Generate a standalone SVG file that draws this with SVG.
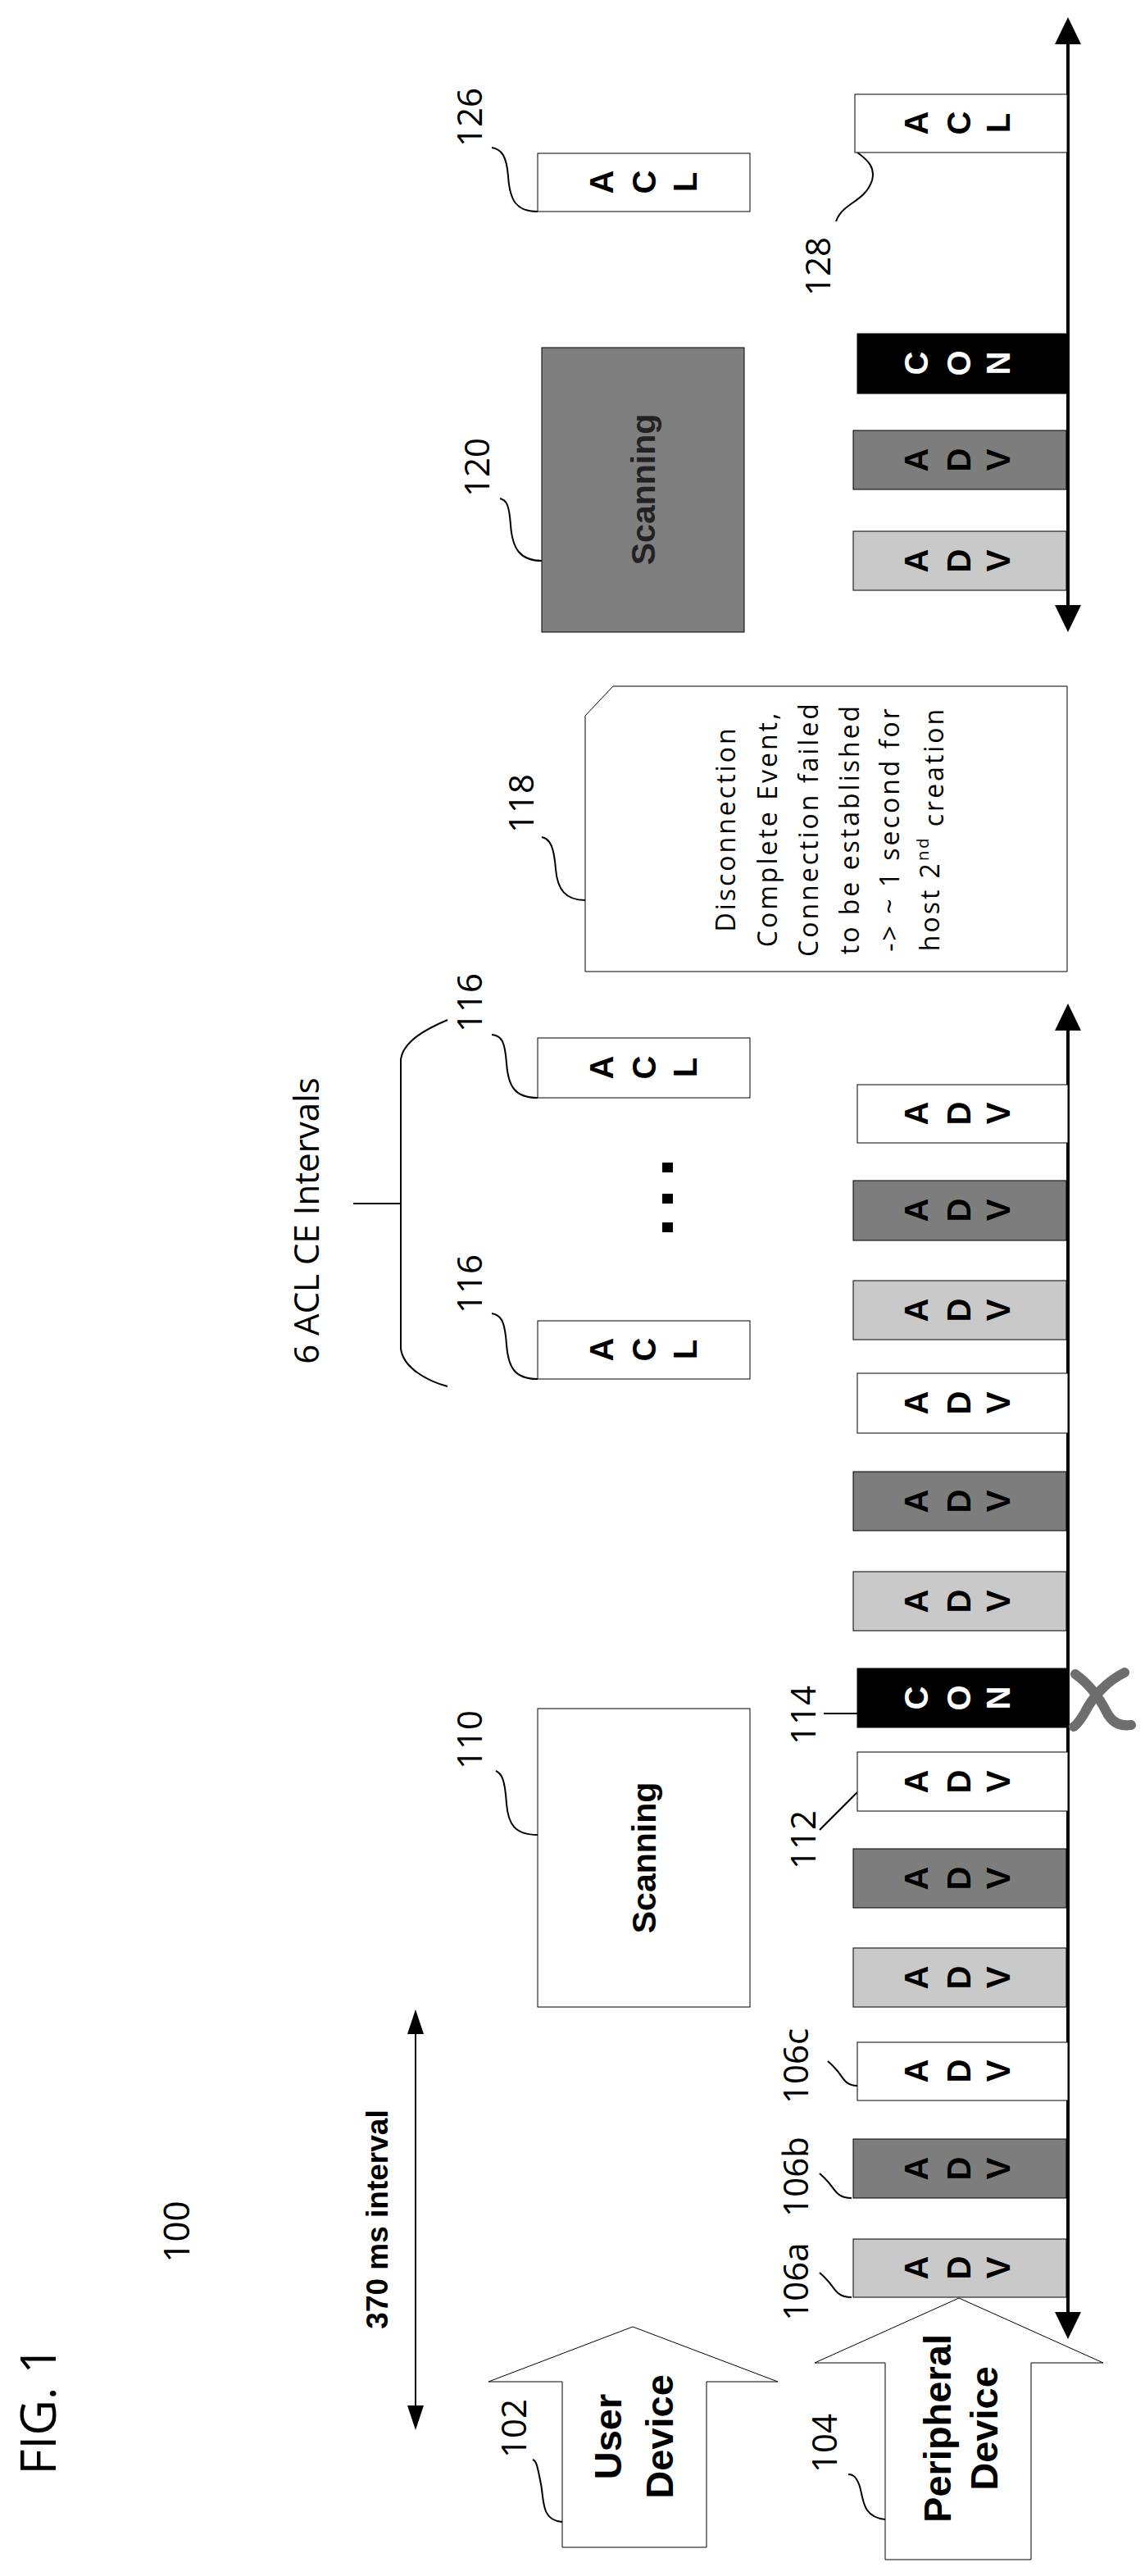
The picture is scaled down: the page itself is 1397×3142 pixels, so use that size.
<svg xmlns="http://www.w3.org/2000/svg" width="1397" height="3142" viewBox="0 0 1397 3142">
<style>
.box{stroke:#000;stroke-width:1}
.w{fill:#fff}.lt{fill:#c9c9c9}.dk{fill:#7d7d7d}.bk{fill:#000}
.let{font-family:"Liberation Sans",Arial,sans-serif;font-weight:bold;font-size:40px;text-anchor:middle;dominant-baseline:central}
.wl{fill:#fff}
.lbl{font-family:"Open Sans","DejaVu Sans",sans-serif;font-size:42px;text-anchor:middle;dominant-baseline:central}
.bold{font-family:"Liberation Sans",Arial,sans-serif;font-weight:bold;text-anchor:middle;dominant-baseline:central}
.ld{fill:none;stroke:#000;stroke-width:2}
.ax{stroke:#000;stroke-width:4;fill:none}
</style>

<g id="connectors">
<line class="ax" x1="1303" y1="1256" x2="1303" y2="2822"/>
<polygon points="1303,1224 1287,1257 1319,1257"/>
<polygon points="1303,2853 1287,2820 1319,2820"/>
<line class="ax" x1="1303" y1="52" x2="1303" y2="740"/>
<polygon points="1303,21 1287,54 1319,54"/>
<polygon points="1303,771 1287,738 1319,738"/>
<line x1="507" y1="2475" x2="507" y2="2940" stroke="#000" stroke-width="2"/>
<polygon points="507,2451 497,2481 517,2481"/>
<polygon points="507,2964 497,2934 517,2934"/>
<path class="ld" d="M686,3076 C660,3074 664,3050 660,3030 C656,3010 655,3002 650,3000"/>
<path class="ld" d="M1080,3073 C1050,3070 1054,3045 1048,3030 C1044,3020 1040,3018 1035,3018"/>
<path class="ld" d="M1039,2802 C1020,2802 1018,2790 1010,2782 C1005,2776 1002,2774 1000,2772"/>
<path class="ld" d="M1039,2681 C1020,2681 1018,2669 1010,2661 C1005,2655 1002,2653 1000,2651"/>
<path class="ld" d="M1046,2544 C1030,2544 1028,2532 1020,2524 C1015,2518 1012,2516 1010,2514"/>
<path class="ld" d="M1046,2186 L1000,2232"/>
<path class="ld" d="M1005,2090 L1046,2090"/>
<path class="ld" d="M656,2238 C628,2238 620,2225 618,2200 C616,2170 612,2163 605,2160"/>
<path class="ld" d="M656,1682 C628,1682 620,1668 618,1640 C616,1612 612,1604 600,1602"/>
<path class="ld" d="M656,1339 C628,1339 620,1325 618,1297 C616,1270 612,1263 600,1262"/>
<path class="ld" d="M714,1098 C690,1098 680,1085 678,1060 C676,1035 672,1023 661,1021"/>
<path class="ld" d="M661,684 C635,684 625,670 623,640 C621,615 618,610 610,608"/>
<path class="ld" d="M656,258 C630,258 622,245 620,215 C618,190 612,182 600,180"/>
<path class="ld" d="M1046,186 C1060,196 1068,205 1064,220 C1058,238 1044,244 1034,252 C1026,258 1022,264 1020,270"/>
<path class="ld" d="M546,1244 C520,1255 492,1270 489,1292 L489,1645 C492,1668 520,1684 546,1691"/>
<line class="ld" x1="431" y1="1468" x2="489" y2="1468"/>
<path d="M1312,2042 C1330,2055 1342,2072 1350,2088 C1356,2100 1366,2106 1380,2104" fill="none" stroke="#6e6e6e" stroke-width="12" stroke-linecap="round"/>
<path d="M1372,2040 C1352,2050 1334,2068 1324,2088 C1318,2098 1314,2104 1310,2106" fill="none" stroke="#6e6e6e" stroke-width="12" stroke-linecap="round"/>
</g>

<g id="fig-title">
<text class="lbl" style="font-size:60px" transform="translate(45,2940) rotate(-90)">FIG. 1</text>
<text class="lbl" style="font-size:44px" transform="translate(214,2722) rotate(-90)">100</text>
<text class="bold" style="font-size:37px" transform="translate(460,2707) rotate(-90)">370 ms interval</text>
</g>

<g id="user-device">
<polygon class="box w" points="772,2838 949,2905 862,2905 862,3107 686,3107 686,2905 596,2905"/>
<text class="bold" style="font-size:47px" transform="translate(741,2972) rotate(-90)">User</text>
<text class="bold" style="font-size:47px" transform="translate(804,2972) rotate(-90)">Device</text>
<text class="lbl" transform="translate(625,2962) rotate(-90)">102</text>
</g>

<g id="peripheral-device">
<polygon class="box w" points="1170,2803 1346,2882 1258,2882 1258,3122 1080,3122 1080,2882 994,2882"/>
<text class="bold" style="font-size:47px" transform="translate(1143,2962) rotate(-90)">Peripheral</text>
<text class="bold" style="font-size:47px" transform="translate(1200,2962) rotate(-90)">Device</text>
<text class="lbl" transform="translate(1004,2980) rotate(-90)">104</text>
</g>

<g id="labels">
<text class="lbl" transform="translate(969,2783) rotate(-90)">106a</text>
<text class="lbl" transform="translate(969,2655) rotate(-90)">106b</text>
<text class="lbl" transform="translate(969,2520) rotate(-90)">106c</text>
<text class="lbl" transform="translate(978,2244) rotate(-90)">112</text>
<text class="lbl" transform="translate(978,2092) rotate(-90)">114</text>
<text class="lbl" transform="translate(571,2122) rotate(-90)">110</text>
<text class="lbl" transform="translate(571,1566) rotate(-90)">116</text>
<text class="lbl" transform="translate(571,1223) rotate(-90)">116</text>
<text class="lbl" transform="translate(634,980) rotate(-90)">118</text>
<text class="lbl" transform="translate(580,570) rotate(-90)">120</text>
<text class="lbl" transform="translate(571,143) rotate(-90)">126</text>
<text class="lbl" transform="translate(996,325) rotate(-90)">128</text>
<text class="lbl" style="font-size:42px" transform="translate(372,1489) rotate(-90)">6 ACL CE Intervals</text>
</g>

<g id="scanning-110">
<rect class="box w" x="656" y="2084" width="259" height="364"/>
<text class="bold" style="font-size:41px" transform="translate(786,2266) rotate(-90)">Scanning</text>
</g>
<g id="scanning-120">
<rect class="box" x="661" y="424" width="247" height="347" fill="#7f7f7f"/>
<text class="bold" style="font-size:41px;fill:#222" transform="translate(785,597) rotate(-90)">Scanning</text>
</g>

<g id="note-118">
<polygon class="box w" points="748,837 1302,837 1302,1185 714,1185 714,873"/>
<g class="lbl" style="font-size:32px;letter-spacing:3px">
<text transform="translate(884,1011) rotate(-90)">Disconnection</text>
<text transform="translate(935,1011) rotate(-90)">Complete Event,</text>
<text transform="translate(985,1011) rotate(-90)">Connection failed</text>
<text transform="translate(1035,1011) rotate(-90)">to be established</text>
<text transform="translate(1084,1011) rotate(-90)">-&gt; ~ 1 second for</text>
<text transform="translate(1133,1011) rotate(-90)">host 2<tspan dy="-0.4em" style="font-size:20px">nd</tspan><tspan dy="0.4em"> creation</tspan></text>
</g>
</g>

<g id="acl-126">
<rect class="box w" x="656" y="187" width="259" height="71"/>
<text class="let" transform="translate(734,222) rotate(-90)">A</text>
<text class="let" transform="translate(786,222) rotate(-90)">C</text>
<text class="let" transform="translate(836,222) rotate(-90)">L</text>
</g>
<g id="acl-116a">
<rect class="box w" x="656" y="1266" width="259" height="73"/>
<text class="let" transform="translate(734,1302) rotate(-90)">A</text>
<text class="let" transform="translate(786,1302) rotate(-90)">C</text>
<text class="let" transform="translate(836,1302) rotate(-90)">L</text>
</g>
<g id="acl-116b">
<rect class="box w" x="656" y="1611" width="259" height="71"/>
<text class="let" transform="translate(734,1646) rotate(-90)">A</text>
<text class="let" transform="translate(786,1646) rotate(-90)">C</text>
<text class="let" transform="translate(836,1646) rotate(-90)">L</text>
</g>
<g id="ellipsis">
<rect x="808" y="1418" width="13" height="12"/>
<rect x="808" y="1456" width="13" height="12"/>
<rect x="808" y="1491" width="13" height="12"/>
</g>

<g id="p106a"><rect class="box lt" x="1041" y="2731" width="260" height="71"/>
<text class="let" transform="translate(1118,2766) rotate(-90)">A</text><text class="let" transform="translate(1170,2766) rotate(-90)">D</text><text class="let" transform="translate(1218,2766) rotate(-90)">V</text></g>
<g id="p106b"><rect class="box dk" x="1041" y="2609" width="260" height="72"/>
<text class="let" transform="translate(1118,2645) rotate(-90)">A</text><text class="let" transform="translate(1170,2645) rotate(-90)">D</text><text class="let" transform="translate(1218,2645) rotate(-90)">V</text></g>
<g id="p106c"><rect class="box w" x="1046" y="2491" width="257" height="71"/>
<text class="let" transform="translate(1118,2526) rotate(-90)">A</text><text class="let" transform="translate(1170,2526) rotate(-90)">D</text><text class="let" transform="translate(1218,2526) rotate(-90)">V</text></g>
<g id="p4"><rect class="box lt" x="1041" y="2376" width="260" height="72"/>
<text class="let" transform="translate(1118,2412) rotate(-90)">A</text><text class="let" transform="translate(1170,2412) rotate(-90)">D</text><text class="let" transform="translate(1218,2412) rotate(-90)">V</text></g>
<g id="p5"><rect class="box dk" x="1041" y="2255" width="260" height="72"/>
<text class="let" transform="translate(1118,2291) rotate(-90)">A</text><text class="let" transform="translate(1170,2291) rotate(-90)">D</text><text class="let" transform="translate(1218,2291) rotate(-90)">V</text></g>
<g id="p112"><rect class="box w" x="1046" y="2137" width="257" height="72"/>
<text class="let" transform="translate(1118,2173) rotate(-90)">A</text><text class="let" transform="translate(1170,2173) rotate(-90)">D</text><text class="let" transform="translate(1218,2173) rotate(-90)">V</text></g>
<g id="p114"><rect class="box bk" x="1046" y="2035" width="257" height="72"/>
<text class="let wl" transform="translate(1118,2071) rotate(-90)">C</text><text class="let wl" transform="translate(1170,2071) rotate(-90)">O</text><text class="let wl" transform="translate(1218,2071) rotate(-90)">N</text></g>
<g id="p8"><rect class="box lt" x="1041" y="1917" width="260" height="72"/>
<text class="let" transform="translate(1118,1953) rotate(-90)">A</text><text class="let" transform="translate(1170,1953) rotate(-90)">D</text><text class="let" transform="translate(1218,1953) rotate(-90)">V</text></g>
<g id="p9"><rect class="box dk" x="1041" y="1795" width="260" height="72"/>
<text class="let" transform="translate(1118,1831) rotate(-90)">A</text><text class="let" transform="translate(1170,1831) rotate(-90)">D</text><text class="let" transform="translate(1218,1831) rotate(-90)">V</text></g>
<g id="p10"><rect class="box w" x="1046" y="1675" width="257" height="73"/>
<text class="let" transform="translate(1118,1711) rotate(-90)">A</text><text class="let" transform="translate(1170,1711) rotate(-90)">D</text><text class="let" transform="translate(1218,1711) rotate(-90)">V</text></g>
<g id="p11"><rect class="box lt" x="1041" y="1562" width="260" height="72"/>
<text class="let" transform="translate(1118,1598) rotate(-90)">A</text><text class="let" transform="translate(1170,1598) rotate(-90)">D</text><text class="let" transform="translate(1218,1598) rotate(-90)">V</text></g>
<g id="p12"><rect class="box dk" x="1041" y="1440" width="260" height="73"/>
<text class="let" transform="translate(1118,1476) rotate(-90)">A</text><text class="let" transform="translate(1170,1476) rotate(-90)">D</text><text class="let" transform="translate(1218,1476) rotate(-90)">V</text></g>
<g id="p13"><rect class="box w" x="1046" y="1323" width="257" height="71"/>
<text class="let" transform="translate(1118,1358) rotate(-90)">A</text><text class="let" transform="translate(1170,1358) rotate(-90)">D</text><text class="let" transform="translate(1218,1358) rotate(-90)">V</text></g>

<g id="q1"><rect class="box lt" x="1041" y="648" width="260" height="72"/>
<text class="let" transform="translate(1118,684) rotate(-90)">A</text><text class="let" transform="translate(1170,684) rotate(-90)">D</text><text class="let" transform="translate(1218,684) rotate(-90)">V</text></g>
<g id="q2"><rect class="box dk" x="1041" y="525" width="260" height="72"/>
<text class="let" transform="translate(1118,561) rotate(-90)">A</text><text class="let" transform="translate(1170,561) rotate(-90)">D</text><text class="let" transform="translate(1218,561) rotate(-90)">V</text></g>
<g id="q3"><rect class="box bk" x="1046" y="407" width="257" height="73"/>
<text class="let wl" transform="translate(1118,443) rotate(-90)">C</text><text class="let wl" transform="translate(1170,443) rotate(-90)">O</text><text class="let wl" transform="translate(1218,443) rotate(-90)">N</text></g>
<g id="acl-128"><rect class="box w" x="1043" y="115" width="259" height="71"/>
<text class="let" transform="translate(1118,150) rotate(-90)">A</text><text class="let" transform="translate(1170,150) rotate(-90)">C</text><text class="let" transform="translate(1218,150) rotate(-90)">L</text></g>
</svg>
